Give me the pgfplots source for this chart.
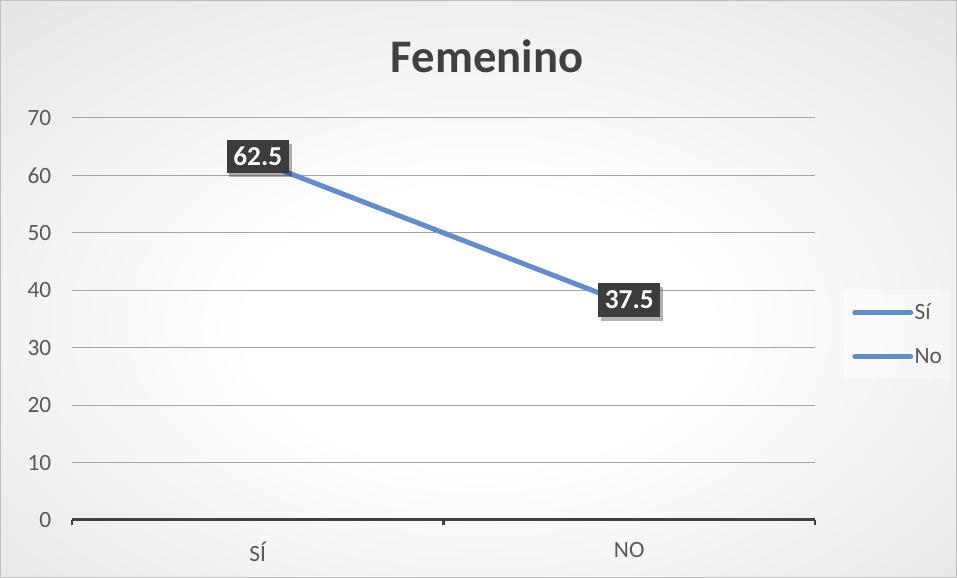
\documentclass[border=0pt]{standalone}
\usepackage{pgfplots}
\pgfplotsset{compat=1.18}
\usepackage{fontspec}
\setmainfont{Carlito}
\usetikzlibrary{shadows}
\definecolor{linecol}{RGB}{98,141,199}
\definecolor{txtcol}{RGB}{89,89,89}
\definecolor{titlecol}{RGB}{64,64,64}
\definecolor{axcol}{RGB}{64,64,64}
\definecolor{gridcol}{RGB}{166,166,166}
\definecolor{lblbox}{RGB}{60,60,60}
\pgfdeclareradialshading{bgshade}{\pgfpoint{0bp}{-4bp}}{color(0bp)=(white); color(12bp)=(white); color(72bp)=(black!24)}
\begin{document}
\begin{tikzpicture}[x=0.75pt,y=0.75pt]
\path[use as bounding box] (0,0) rectangle (957,578);
\shade[shading=bgshade] (0,0) rectangle (957,578);
\draw[black!25, line width=0.75pt] (0.5,0.5) rectangle (956.5,577.5);
\node[anchor=base, font=\bfseries\fontsize{35}{40}\selectfont, text=titlecol] at (487,505) {Femenino};
\begin{axis}[
  at={(54pt,43.5pt)}, anchor=south west,
  scale only axis, width=557.25pt, height=301.5pt,
  xmin=-0.5, xmax=1.5, ymin=0, ymax=70,
  ytick={0,10,...,70},
  xtick={0,1}, xticklabels={SÍ,NO},
  extra x ticks={-0.5,0.5,1.5}, extra x tick labels={},
  extra x tick style={major tick length=4pt, tick align=outside, tick style={draw=axcol, line width=2pt}},
  axis x line*=bottom, axis y line*=left,
  x axis line style={draw=axcol, line width=2.25pt, -},
  y axis line style={draw=none},
  major tick length=0pt,
  ymajorgrids, grid style={draw=gridcol, line width=0.75pt},
  /pgf/number format/assume math mode=true,
  ticklabel style={font=\fontsize{17.5}{21}\selectfont, text=txtcol},
  yticklabel style={xshift=-12pt},
  xticklabel style={yshift=-13pt},
  clip=false,
  legend style={at={(1.039,0.572)}, anchor=north west, draw=none, fill=white, fill opacity=0.45, text opacity=1,
    font=\fontsize{17.5}{21}\selectfont, text=txtcol, row sep=18pt, inner xsep=6pt, inner ysep=9pt,
    nodes={inner sep=1pt}},
  legend cell align=left,
  legend image code/.code={\draw[linecol, line width=3.75pt, line cap=round] (0pt,0pt) -- (42pt,0pt);},
  point meta=explicit symbolic,
  nodes near coords,
  every node near coord/.style={anchor=center, yshift=3.5pt, draw=none, fill=lblbox, text=white,
    font=\bfseries\fontsize{20.5}{24}\selectfont, inner xsep=5pt, inner ysep=5pt, minimum height=25pt,
    drop shadow={shadow xshift=2pt, shadow yshift=-3pt, draw=none, fill=black, opacity=0.3}},
]
\addplot[linecol, line width=3.75pt, mark=none] coordinates {(0,62.5)[62.5] (1,37.5)[37.5]};
\addlegendentry{Sí}
\addlegendimage{linecol, line width=3.75pt}
\addlegendentry{No}
\end{axis}
\end{tikzpicture}
\end{document}
